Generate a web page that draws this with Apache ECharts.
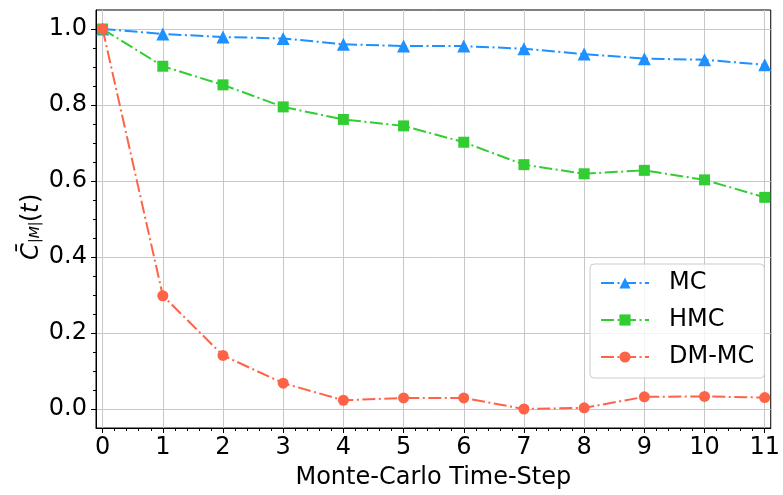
<!DOCTYPE html>
<html><head><meta charset="utf-8">
<script src="https://cdn.jsdelivr.net/npm/echarts@6/dist/echarts.min.js"></script>
<style>html,body{margin:0;padding:0;background:#fff}#c{width:783px;height:495px}</style>
</head><body><div id="c"></div>
<script>
// ---- data ----
const steps = [0, 1, 2, 3, 4, 5, 6, 7, 8, 9, 10, 11];
const mcValues = [1.000, 0.987, 0.979, 0.975, 0.960, 0.955, 0.955, 0.948, 0.934, 0.922, 0.919, 0.906];
const hmcValues = [1.000, 0.902, 0.853, 0.795, 0.762, 0.745, 0.702, 0.643, 0.619, 0.628, 0.603, 0.557];
const dmmcValues = [1.000, 0.298, 0.141, 0.068, 0.023, 0.029, 0.029, 0.000, 0.003, 0.032, 0.033, 0.030];
const seriesNames = ['MC', 'HMC', 'DM-MC'];
const xTicks = [0, 1, 2, 3, 4, 5, 6, 7, 8, 9, 10, 11];
const yTicks = [0.0, 0.2, 0.4, 0.6, 0.8, 1.0];
const xTitle = 'Monte-Carlo Time-Step';
const yTitleParts = ['C\u0304', '|M|', '(', 't', ')'];

// minor tick positions derived from the major ticks
const xMinor = [];
for (let i = 0; i < xTicks.length - 1; i++) for (let k = 1; k < 5; k++) xMinor.push(+(xTicks[i] + k * (xTicks[i + 1] - xTicks[i]) / 5).toFixed(3));
const yMinor = [];
for (let i = 0; i < yTicks.length - 1; i++) for (let k = 1; k < 4; k++) yMinor.push(+(yTicks[i] + k * (yTicks[i + 1] - yTicks[i]) / 4).toFixed(3));

const FONT = 'DejaVu Sans';
const colors = ['#1E90FF', '#32CD32', '#FF6347'];
const symbols = ['triangle', 'rect', 'circle'];
const symbolSizes = [13, 11, 11];
const dash = [13, 3.5, 2, 3.5];
const valuesList = [mcValues, hmcValues, dmmcValues];

const chart = echarts.init(document.getElementById('c'), null, { renderer: 'canvas' });
const gridCol = '#c8c8c8';
const X_MIN = -0.11, X_MAX = 11.1, Y_MIN = -0.05, Y_MAX = 1.05;

function txt(text, x, y, size, italic) {
  return { type: 'text', x, y, style: { text, fontSize: size, fontFamily: FONT, fontStyle: italic ? 'italic' : 'normal', fill: '#000', align: 'left', verticalAlign: 'middle' } };
}

chart.setOption({
  animation: false,
  backgroundColor: '#fff',
  grid: { left: 96, right: 6, top: 10, bottom: 62, show: true, borderColor: '#000', borderWidth: 1, backgroundColor: 'transparent' },
  xAxis: [{
    type: 'value', min: X_MIN, max: X_MAX, splitNumber: 11,
    axisLine: { show: true, onZero: false, lineStyle: { color: '#000', width: 1 } },
    axisTick: { show: true, customValues: xTicks, length: 5, lineStyle: { color: '#000', width: 1 } },
    axisLabel: { customValues: xTicks, margin: 8, fontSize: 24, fontFamily: FONT, color: '#000' },
    splitLine: { show: true, lineStyle: { color: gridCol, width: 1 } },
    name: xTitle, nameLocation: 'middle', nameGap: 38,
    nameTextStyle: { fontSize: 24, fontFamily: FONT, color: '#000' }
  }, {
    type: 'value', min: X_MIN, max: X_MAX, position: 'bottom',
    axisLine: { show: false, onZero: false },
    axisTick: { show: true, customValues: xMinor, length: 3, lineStyle: { color: '#000', width: 1 } },
    axisLabel: { show: false }, splitLine: { show: false }
  }],
  yAxis: [{
    type: 'value', min: Y_MIN, max: Y_MAX, splitNumber: 5,
    axisLine: { show: true, onZero: false, lineStyle: { color: '#000', width: 1 } },
    axisTick: { show: true, customValues: yTicks, length: 5, lineStyle: { color: '#000', width: 1 } },
    axisLabel: { customValues: yTicks, margin: 9, fontSize: 24, fontFamily: FONT, color: '#000', formatter: v => Number(v).toFixed(1) },
    splitLine: { show: true, lineStyle: { color: gridCol, width: 1 } }
  }, {
    type: 'value', min: Y_MIN, max: Y_MAX, position: 'left',
    axisLine: { show: false, onZero: false },
    axisTick: { show: true, customValues: yMinor, length: 3, lineStyle: { color: '#000', width: 1 } },
    axisLabel: { show: false }, splitLine: { show: false }
  }],
  legend: {
    data: seriesNames, orient: 'vertical', left: 590, top: 264,
    padding: [7, 10, 9, 10], itemWidth: 48, itemHeight: 14, itemGap: 13,
    backgroundColor: 'rgba(255,255,255,0.8)', borderColor: '#cccccc', borderWidth: 1, borderRadius: 4,
    textStyle: { fontSize: 24, lineHeight: 24, fontFamily: FONT, color: '#000', padding: [0, 0, 0, 15] }
  },
  graphic: [{
    type: 'group', x: 32, y: 225, rotation: Math.PI / 2,
    children: [
      txt(yTitleParts[0], -35, 0, 24, true),
      txt(yTitleParts[1], -18, 3, 14, true),
      txt(yTitleParts[2], 3, 0, 24, false),
      txt(yTitleParts[3], 12, 0, 24, true),
      txt(yTitleParts[4], 22, 0, 24, false)
    ]
  }],
  series: seriesNames.map((name, si) => ({
    name, type: 'line', xAxisIndex: 0, yAxisIndex: 0,
    data: steps.map((s, i) => [s, valuesList[si][i]]),
    symbol: symbols[si], symbolSize: symbolSizes[si], showSymbol: true,
    itemStyle: { color: colors[si] },
    lineStyle: { color: colors[si], width: 2, type: dash },
    emphasis: { disabled: true }, z: 3 + si
  }))
});
</script></body></html>
